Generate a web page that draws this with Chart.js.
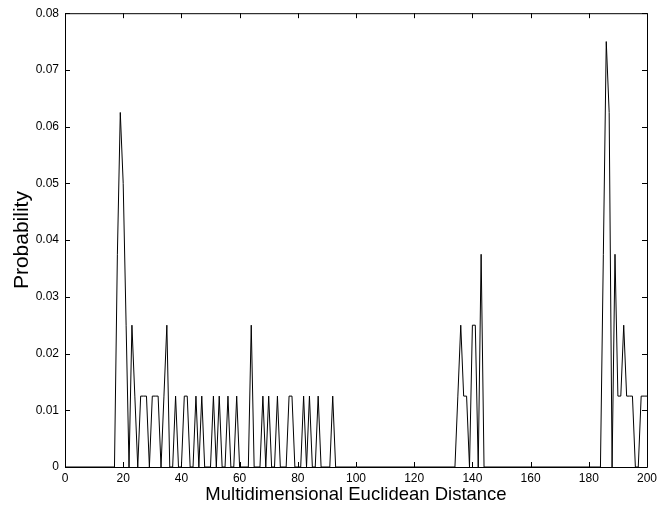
<!DOCTYPE html>
<html>
<head>
<meta charset="utf-8">
<script src="https://cdn.jsdelivr.net/npm/chart.js@4/dist/chart.umd.min.js"></script>
<style>
  html, body { margin: 0; padding: 0; background: #fff; }
  #wrap { width: 663px; height: 512px; }
</style>
</head>
<body>
<div id="wrap"><canvas id="chart"></canvas></div>
<script>
// distance (x) and probability (y); runs of zero are kept by their end points
const distances = [
  0, 17, 18, 19, 20, 21, 22, 23, 24, 25, 26, 27, 28, 29, 30, 31, 32, 33, 34, 35,
  36, 37, 38, 39, 40, 41, 42, 43, 44, 45, 46, 47, 48, 50, 51, 52, 53, 54, 55, 56,
  57, 58, 59, 60, 63, 64, 65, 67, 68, 69, 70, 71, 72, 73, 74, 76, 77, 78, 79, 81,
  82, 83, 84, 85, 86, 87, 88, 91, 92, 93,
  134, 135, 136, 137, 138, 139, 140, 141, 142, 143, 144,
  184, 185, 186, 187, 188, 189, 190, 191, 192, 193, 194, 195, 196, 197, 198, 199, 200
];
const probabilities = [
  0, 0, 0.0375, 0.0625, 0.05, 0.025, 0, 0.025, 0.0125, 0, 0.0125, 0.0125, 0.0125, 0, 0.0125, 0.0125, 0.0125, 0, 0.0125, 0.025,
  0, 0, 0.0125, 0, 0, 0.0125, 0.0125, 0, 0, 0.0125, 0, 0.0125, 0, 0, 0.0125, 0, 0.0125, 0, 0, 0.0125,
  0, 0, 0.0125, 0, 0, 0.025, 0, 0, 0.0125, 0, 0.0125, 0, 0, 0.0125, 0, 0, 0.0125, 0.0125, 0, 0,
  0.0125, 0, 0.0125, 0, 0, 0.0125, 0, 0, 0.0125, 0,
  0, 0.0125, 0.025, 0.0125, 0.0125, 0, 0.025, 0.025, 0, 0.0375, 0,
  0, 0.0375, 0.075, 0.0625, 0, 0.0375, 0.0125, 0.0125, 0.025, 0.0125, 0.0125, 0.0125, 0, 0, 0.0125, 0.0125, 0.0125
];
const xTicks = [0, 20, 40, 60, 80, 100, 120, 140, 160, 180, 200];
const yTicks = [0, 0.01, 0.02, 0.03, 0.04, 0.05, 0.06, 0.07, 0.08];

const points = distances.map((d, i) => ({ x: d, y: probabilities[i] }));

// matlab style box with ticks pointing inwards on all four sides
const frame = {
  id: 'frame',
  afterDraw(chart) {
    const { ctx, chartArea: a, scales: { x, y } } = chart;
    const len = 5;
    ctx.save();
    ctx.strokeStyle = '#000';
    ctx.lineWidth = 1;
    ctx.beginPath();
    ctx.rect(a.left + 0.5, a.top + 0.5, a.right - a.left, a.bottom - a.top);
    xTicks.forEach(v => {
      const px = Math.round(x.getPixelForValue(v)) + 0.5;
      ctx.moveTo(px, a.bottom); ctx.lineTo(px, a.bottom - len);
      ctx.moveTo(px, a.top); ctx.lineTo(px, a.top + len);
    });
    yTicks.forEach(v => {
      const py = Math.round(y.getPixelForValue(v)) + 0.5;
      ctx.moveTo(a.left, py); ctx.lineTo(a.left + len, py);
      ctx.moveTo(a.right, py); ctx.lineTo(a.right - len, py);
    });
    ctx.stroke();
    ctx.restore();
  }
};

new Chart(document.getElementById('chart'), {
  type: 'line',
  data: {
    datasets: [{
      data: points,
      borderColor: '#000',
      borderWidth: 1,
      pointRadius: 0,
      tension: 0,
      fill: false
    }]
  },
  options: {
    responsive: true,
    maintainAspectRatio: false,
    animation: false,
    layout: { padding: { top: 8, right: 16, left: 0, bottom: 0 } },
    plugins: { legend: { display: false }, tooltip: { enabled: false } },
    scales: {
      x: {
        type: 'linear',
        min: 0,
        max: 200,
        afterBuildTicks: s => { s.ticks = xTicks.map(v => ({ value: v })); },
        afterFit: s => { s.height = 45; },
        grid: { display: false, drawTicks: false },
        border: { display: false },
        ticks: {
          color: '#000',
          padding: 4,
          maxRotation: 0,
          autoSkip: false,
          font: { family: 'Liberation Sans, Arial, sans-serif', size: 12 }
        },
        title: {
          display: true,
          text: 'Multidimensional Euclidean Distance',
          color: '#000',
          padding: { top: 0, bottom: 6 },
          font: { family: 'Liberation Sans, Arial, sans-serif', size: 18.5 }
        }
      },
      y: {
        min: 0,
        max: 0.08,
        afterBuildTicks: s => { s.ticks = yTicks.map(v => ({ value: v })); },
        afterFit: s => { s.width = 65; },
        grid: { display: false, drawTicks: false },
        border: { display: false },
        ticks: {
          color: '#000',
          padding: 6,
          autoSkip: false,
          font: { family: 'Liberation Sans, Arial, sans-serif', size: 12 },
          callback: v => String(+v.toFixed(2))
        },
        title: {
          display: true,
          text: 'Probability',
          color: '#000',
          padding: { top: 10, bottom: 0 },
          font: { family: 'Liberation Sans, Arial, sans-serif', size: 21 }
        }
      }
    }
  },
  plugins: [frame]
});
</script>
</body>
</html>
